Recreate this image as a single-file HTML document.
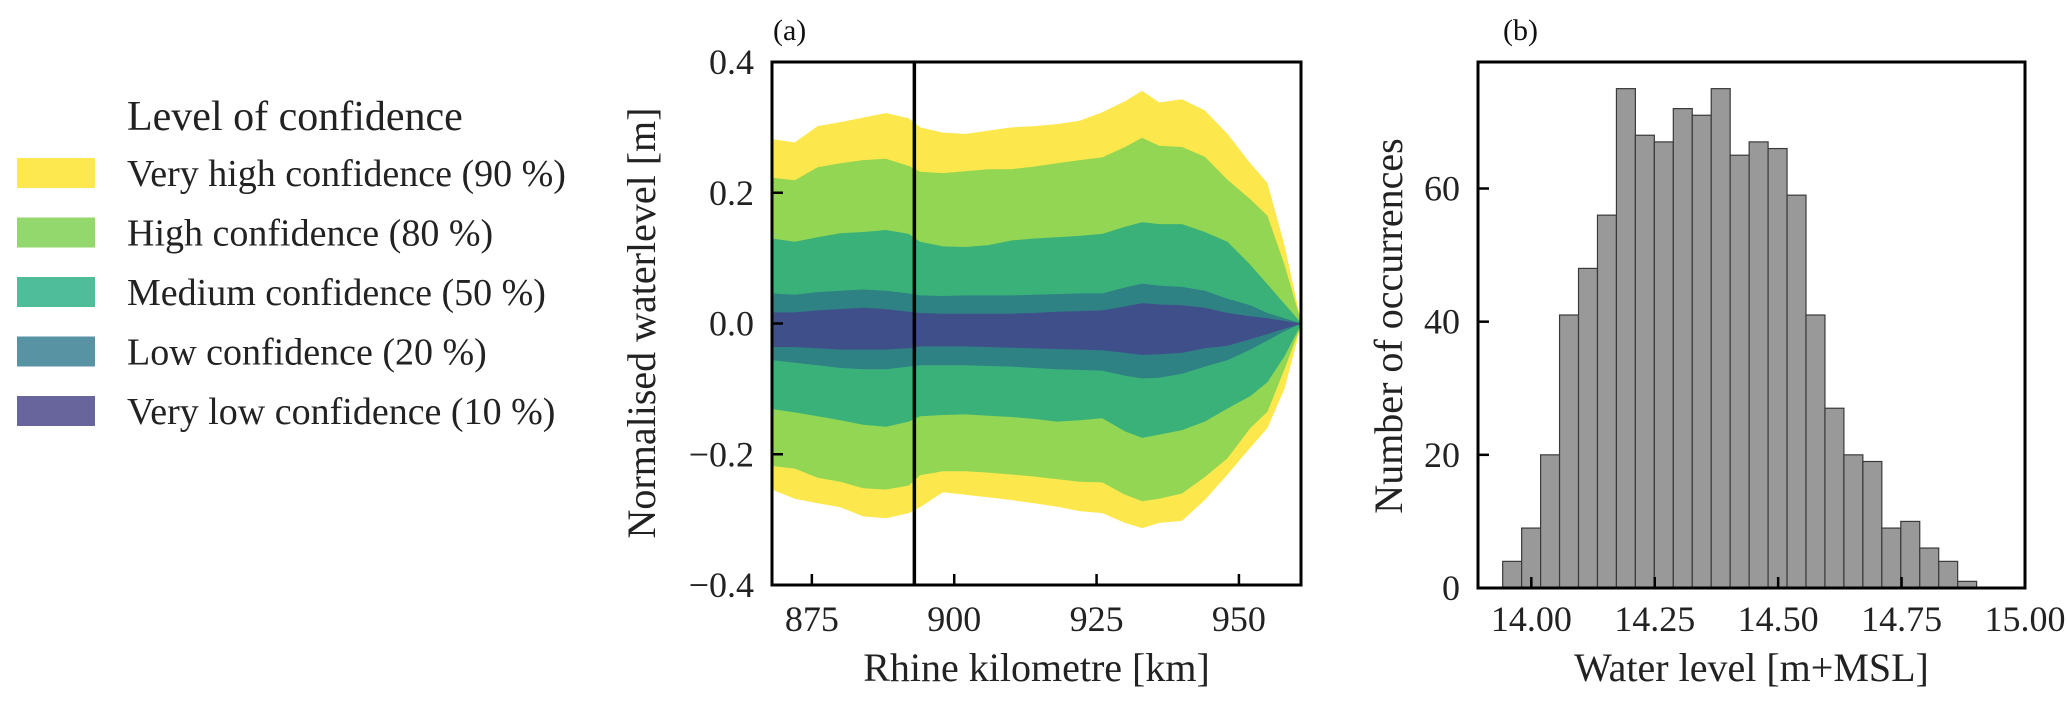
<!DOCTYPE html>
<html><head><meta charset="utf-8"><style>
html,body{margin:0;padding:0;background:#fff;}
svg{display:block;font-family:"Liberation Serif","DejaVu Serif",serif;}
</style></head><body>
<svg id="fig" width="2067" height="707" viewBox="0 0 2067 707" xmlns="http://www.w3.org/2000/svg">
<g id="legend">
<text x="127" y="130" font-size="42" fill="#222">Level of confidence</text>
</g>
<g id="pa"></g>
<g id="pb"></g>
</svg>
<script>
// ---------- Panel (a) data ----------
const km = [868,872,876,880,884,888,892,894,898,902,906,910,914,918,922,926,930,933,936,940,944,948,952,955,958,961];
const u90 = [.282,.277,.302,.308,.315,.322,.314,.300,.292,.290,.295,.300,.302,.305,.310,.323,.340,.356,.338,.343,.326,.290,.245,.215,.120,0];
const u80 = [.223,.219,.239,.245,.250,.252,.241,.232,.230,.233,.236,.236,.240,.245,.250,.254,.270,.284,.272,.270,.255,.220,.190,.165,.090,0];
const u50 = [.130,.125,.132,.138,.140,.143,.137,.125,.118,.117,.120,.127,.130,.132,.134,.137,.148,.155,.152,.152,.140,.125,.090,.060,.030,0];
const u20 = [.046,.044,.048,.050,.052,.050,.046,.043,.042,.043,.043,.043,.044,.045,.046,.046,.055,.061,.058,.056,.050,.038,.028,.016,.008,0];
const u10 = [.017,.017,.020,.022,.024,.022,.018,.016,.015,.015,.015,.015,.016,.018,.019,.020,.026,.031,.029,.028,.024,.016,.011,.008,.004,0];
const l10 = [-.036,-.036,-.038,-.040,-.040,-.040,-.038,-.035,-.035,-.035,-.036,-.037,-.038,-.039,-.040,-.041,-.045,-.048,-.047,-.045,-.038,-.034,-.024,-.016,-.008,0];
const l20 = [-.056,-.060,-.064,-.068,-.070,-.070,-.066,-.064,-.064,-.064,-.065,-.066,-.068,-.070,-.071,-.072,-.080,-.084,-.083,-.077,-.066,-.056,-.040,-.026,-.012,0];
const l50 = [-.131,-.136,-.142,-.148,-.155,-.158,-.150,-.142,-.140,-.139,-.141,-.143,-.146,-.150,-.148,-.145,-.165,-.175,-.170,-.163,-.150,-.130,-.111,-.090,-.050,0];
const l80 = [-.218,-.222,-.236,-.242,-.252,-.254,-.248,-.232,-.226,-.226,-.228,-.231,-.234,-.238,-.242,-.243,-.262,-.272,-.268,-.260,-.235,-.206,-.160,-.135,-.070,0];
const l90 = [-.254,-.268,-.275,-.281,-.295,-.298,-.290,-.281,-.258,-.262,-.266,-.270,-.275,-.280,-.287,-.290,-.305,-.313,-.305,-.302,-.270,-.231,-.190,-.160,-.100,0];
const levelNames = ["Very high confidence (90 %)","High confidence (80 %)","Medium confidence (50 %)","Low confidence (20 %)","Very low confidence (10 %)"];
const aXTicks = [875,900,925,950];
const aYTicks = [-0.4,-0.2,0.0,0.2,0.4];
const markerKm = 893;
// ---------- Panel (b) data ----------
const binStart = 13.942;
const binWidth = 0.0384;
const counts = [4,9,20,41,48,56,75,68,67,72,71,75,65,67,66,59,41,27,20,19,9,10,6,4,1];
const bXTicks = [14.00,14.25,14.50,14.75,15.00];
const bYTicks = [0,20,40,60];

const NS = "http://www.w3.org/2000/svg";
function mk(parent, tag, attrs, text){
  const e = document.createElementNS(NS, tag);
  for (const k in attrs) e.setAttribute(k, attrs[k]);
  if (text !== undefined) e.textContent = text;
  parent.appendChild(e);
  return e;
}
const colors = ["#fce84c","#92d653","#3bb17a","#2e8283","#3f4f8a"];
const legendColors = ["#fde94f","#93d86c","#4fbd9a","#5893a3","#67659b"];

// Legend
const lg = document.getElementById('legend');
levelNames.forEach((n,i)=>{
  const cy = 173 + i*59.5;
  const r = mk(lg,'rect',{x:17,y:cy-15,width:78,height:30,fill:legendColors[i]});
  
  
  const t = mk(lg,'text',{x:127,y:cy+13,'font-size':38,fill:'#222'},n);
  
  
});

// Panel a
const pa = document.getElementById('pa');
const aL=772, aR=1301, aT=62, aB=585;
const axMin=868, axMax=960.9, ayMin=-0.4, ayMax=0.4;
const ax = v => aL + (v-axMin)/(axMax-axMin)*(aR-aL);
const ay = v => aB - (v-ayMin)/(ayMax-ayMin)*(aB-aT);
const uppers=[u90,u80,u50,u20,u10], lowers=[l90,l80,l50,l20,l10];
const bandNames=['band-very-high-90','band-high-80','band-medium-50','band-low-20','band-very-low-10'];
for(let b=0;b<5;b++){
  let d='';
  km.forEach((k,i)=>{ d += (i?'L':'M') + ax(k).toFixed(1)+','+ay(uppers[b][i]).toFixed(1); });
  for(let i=km.length-1;i>=0;i--) d += 'L'+ax(km[i]).toFixed(1)+','+ay(lowers[b][i]).toFixed(1);
  const p = mk(pa,'path',{d:d+'Z',fill:colors[b],stroke:'none'});
  
  
}
const ml = mk(pa,'line',{x1:ax(markerKm),x2:ax(markerKm),y1:aT,y2:aB,stroke:'#000','stroke-width':3.5});


const fa = mk(pa,'rect',{x:aL,y:aT,width:aR-aL,height:aB-aT,fill:'none',stroke:'#000','stroke-width':3});


aXTicks.forEach(t=>{
  const x=ax(t);
  const tk = mk(pa,'line',{x1:x,x2:x,y1:aB,y2:aB-11,stroke:'#000','stroke-width':2.5});
  
  
  const lb = mk(pa,'text',{x:x,y:631,'font-size':36,'text-anchor':'middle',fill:'#222'},String(t));
  
  
});
aYTicks.forEach(t=>{
  const y=ay(t);
  const tk = mk(pa,'line',{x1:aL,x2:aL+11,y1:y,y2:y,stroke:'#000','stroke-width':2.5});
  
  
  const s = (t<0?'\u2212':'')+Math.abs(t).toFixed(1);
  const lb = mk(pa,'text',{x:754,y:y+12,'font-size':36,'text-anchor':'end',fill:'#222'},s);
  
  
});
const xta = mk(pa,'text',{x:(aL+aR)/2,y:681,'font-size':40,'text-anchor':'middle',fill:'#222'},'Rhine kilometre [km]');


const yta = mk(pa,'text',{x:0,y:0,'font-size':40,'text-anchor':'middle',fill:'#222',transform:'translate(655,323) rotate(-90)'},'Normalised waterlevel [m]');


const la = mk(pa,'text',{x:773,y:40,'font-size':30,fill:'#111'},'(a)');



// Panel b
const pb = document.getElementById('pb');
const bL=1478, bR=2025, bT=62, bB=588;
const bxMin=13.892, bxMax=15.0, byMin=0, byMax=79;
const bx = v => bL + (v-bxMin)/(bxMax-bxMin)*(bR-bL);
const by = v => bB - (v-byMin)/(byMax-byMin)*(bB-bT);
counts.forEach((c,i)=>{
  const x0=bx(binStart+i*binWidth), x1=bx(binStart+(i+1)*binWidth);
  const r = mk(pb,'rect',{x:x0,y:by(c),width:x1-x0,height:by(0)-by(c),fill:'#999999',stroke:'#3a3a3a','stroke-width':1.2});
  
  
});
const fb = mk(pb,'rect',{x:bL,y:bT,width:bR-bL,height:bB-bT,fill:'none',stroke:'#000','stroke-width':3});


bXTicks.forEach(t=>{
  const x=bx(t);
  const tk = mk(pb,'line',{x1:x,x2:x,y1:bB,y2:bB-11,stroke:'#000','stroke-width':2.5});
  
  
  const lb = mk(pb,'text',{x:x,y:631,'font-size':36,'text-anchor':'middle',fill:'#222'},t.toFixed(2));
  
  
});
bYTicks.forEach(t=>{
  const y=by(t);
  const tk = mk(pb,'line',{x1:bL,x2:bL+11,y1:y,y2:y,stroke:'#000','stroke-width':2.5});
  
  
  const lb = mk(pb,'text',{x:1460,y:y+12,'font-size':36,'text-anchor':'end',fill:'#222'},String(t));
  
  
});
const xtb = mk(pb,'text',{x:(bL+bR)/2,y:681,'font-size':40,'text-anchor':'middle',fill:'#222'},'Water level [m+MSL]');


const ytb = mk(pb,'text',{x:0,y:0,'font-size':40,'text-anchor':'middle',fill:'#222',transform:'translate(1402,326) rotate(-90)'},'Number of occurrences');


const lbb = mk(pb,'text',{x:1503,y:40,'font-size':30,fill:'#111'},'(b)');


</script>
</body></html>
